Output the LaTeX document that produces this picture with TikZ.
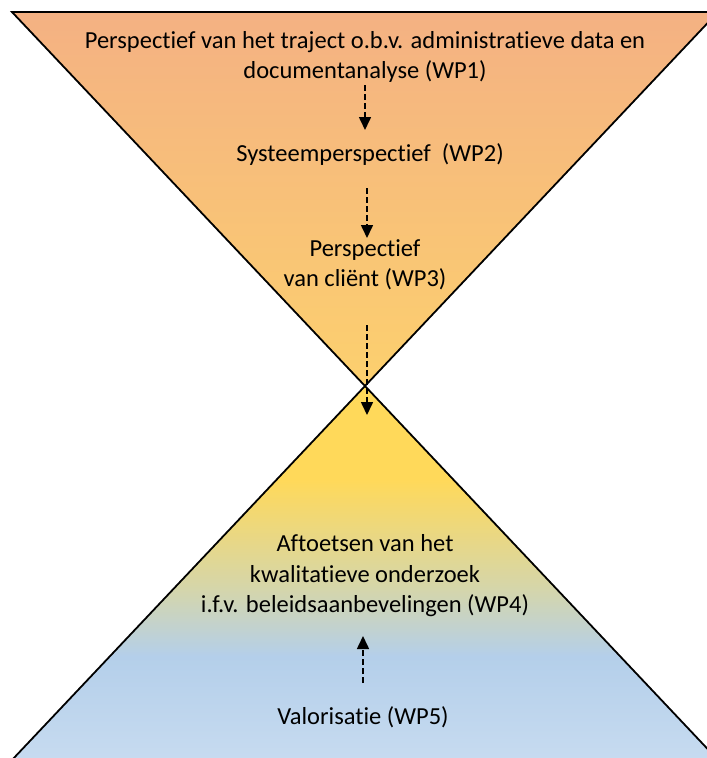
\documentclass[tikz,border=0pt]{standalone}
\usepackage{fontspec}
\setmainfont[Ligatures=NoCommon]{Carlito}
\usetikzlibrary{arrows.meta}
\definecolor{topor}{HTML}{F4B183}
\definecolor{midor}{HTML}{FCD06E}
\definecolor{yel}{HTML}{FFD95A}
\definecolor{tan}{HTML}{D6D6A8}
\definecolor{blu}{HTML}{B4CFEA}
\definecolor{lblu}{HTML}{CADDF1}
\pgfdeclareverticalshading{hourlow}{100bp}{%
  color(0bp)=(lblu); color(25bp)=(lblu); color(40.5bp)=(blu);
  color(49.5bp)=(tan); color(63bp)=(yel); color(75bp)=(yel); color(100bp)=(yel)}
\tikzset{
  lbl/.style={align=center, font=\fontsize{24.5bp}{30.5bp}\selectfont, inner sep=0pt},
  arr/.style={line width=1.6bp, dash pattern=on 6bp off 3bp, -{Triangle[width=12bp,length=13bp]}},
  edge/.style={line width=1.8bp, line join=miter}
}
\begin{document}
\begin{tikzpicture}[x=1bp,y=-1bp]
\useasboundingbox (0,0) rectangle (707,758);
\clip (0,0) rectangle (707,758);
% top triangle
\shade[top color=topor, bottom color=midor] (12,12) -- (718,12) -- (365,386) -- cycle;
% bottom triangle
\shade[shading=hourlow] (365,386) -- (-5,778) -- (735,778) -- cycle;
\draw[edge] (12,12) -- (718,12) -- (365,386) -- cycle;
\draw[edge] (-5,778) -- (365,386) -- (735,778);
% labels
\node[lbl] (wp1) at (365,57) {Perspectief van het traject o.b.v. administratieve data en\\documentanalyse (WP1)};
\node[lbl] (wp2) at (370,155) {Systeemperspectief\ \ (WP2)};
\node[lbl] (wp3) at (365,265) {Perspectief\\van cliënt (WP3)};
\node[lbl] (wp4) at (365,576) {Aftoetsen van het\\kwalitatieve onderzoek\\i.f.v. beleidsaanbevelingen (WP4)};
\node[lbl] (wp5) at (363,717) {Valorisatie (WP5)};
% connector ends
\coordinate (a1s) at (365,85);  \coordinate (a1e) at (365,130);
\coordinate (a2s) at (367,188); \coordinate (a2e) at (367,238);
\coordinate (a3s) at (367,325); \coordinate (a3e) at (367,415);
\coordinate (a4s) at (363,683); \coordinate (a4e) at (363,636);
\draw[arr] (a1s) -- (a1e);
\draw[arr] (a2s) -- (a2e);
\draw[arr] (a3s) -- (a3e);
\draw[arr] (a4s) -- (a4e);
\end{tikzpicture}
\end{document}
